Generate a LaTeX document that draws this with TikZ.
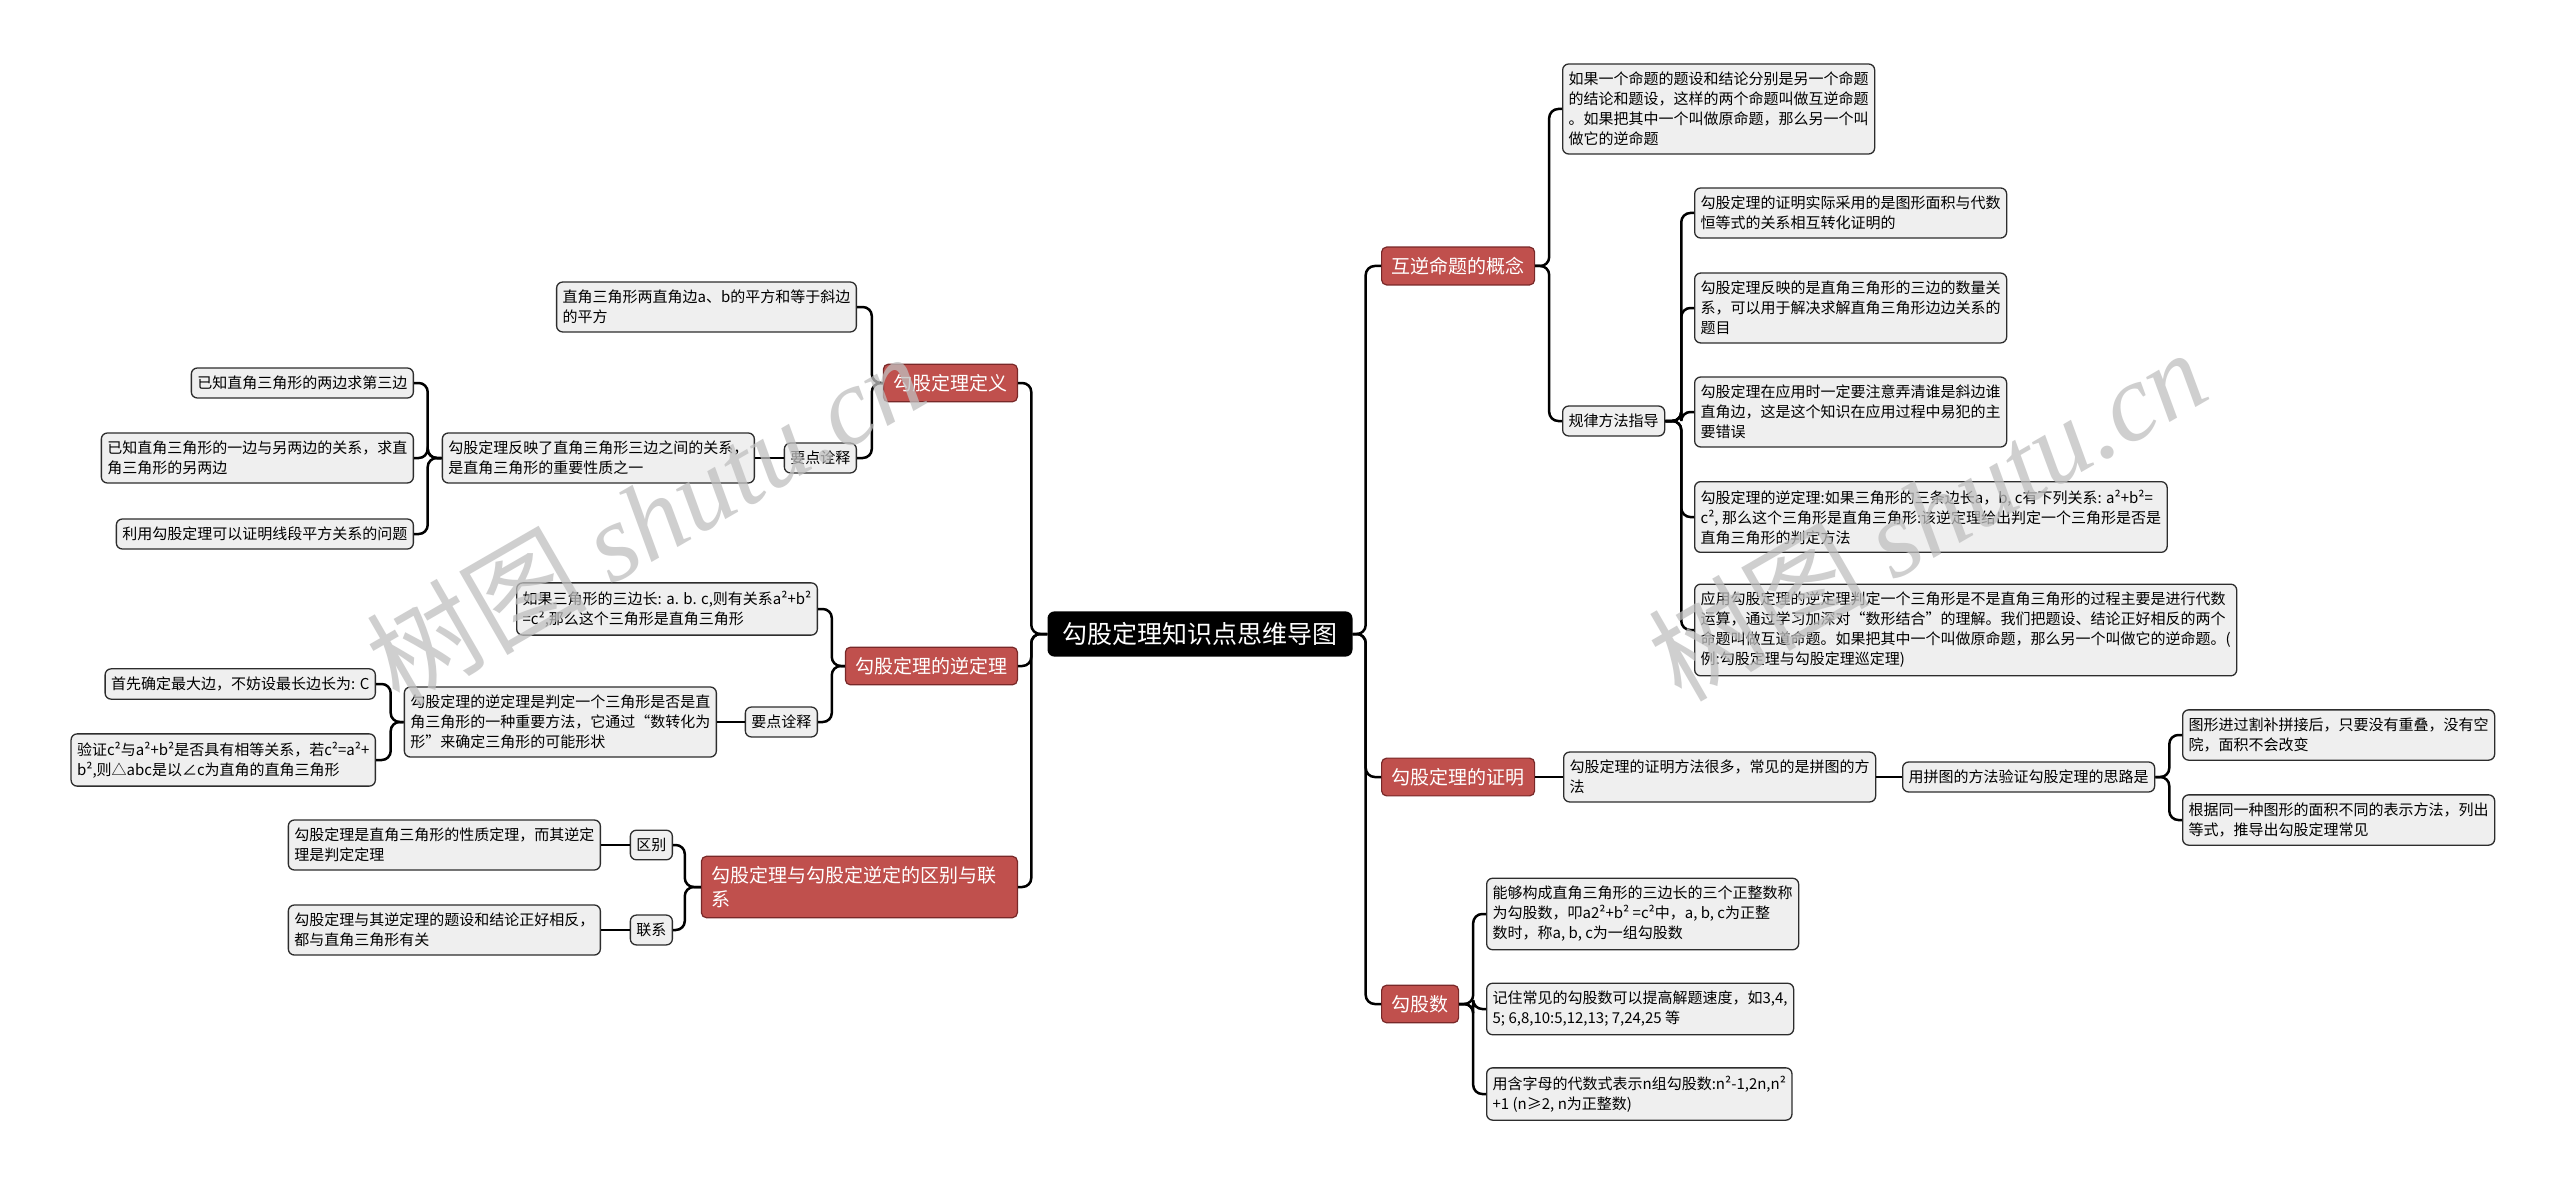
\documentclass[tikz,border=0pt]{standalone}
\usepackage{fontspec}
\setmainfont{Noto Sans CJK SC}
\newfontfamily\wmlatin{Liberation Serif}
\definecolor{topicred}{RGB}{192,80,77}
\definecolor{topicedge}{RGB}{120,40,40}
\definecolor{leafgray}{RGB}{239,239,239}
\definecolor{leafedge}{RGB}{45,45,45}
\begin{document}
\begin{tikzpicture}[x=1pt,y=-1pt,
    root/.style={fill=black, text=white, rounded corners=7pt, inner xsep=15pt, inner ysep=11pt,
      font=\fontsize{25}{30}\selectfont},
    topic/.style={draw=topicedge, line width=1.2pt, fill=topicred, text=white, rounded corners=5pt,
      inner xsep=10pt, inner ysep=10pt, align=left, font=\fontsize{19}{24}\selectfont},
    leaf/.style={draw=leafedge, line width=1.3pt, fill=leafgray, rounded corners=6pt,
      inner xsep=6pt, inner ysep=8pt, align=left, font=\fontsize{15}{20}\selectfont},
    link/.style={line width=2.5pt, rounded corners=9pt},
    wmark/.style={text=black!25, text opacity=0.75, rotate=30, inner sep=0pt,
      font=\fontsize{110}{110}\selectfont}]
  \useasboundingbox (0,0) rectangle (2560,1185);
  \fill[white] (0,0) rectangle (2560,1185);
  % centre
  \node[root] (root) at (1200,634) {勾股定理知识点思维导图};
  % left: definition
  \node[topic, anchor=east] (def) at (1018,383) {勾股定理定义};
  \node[leaf, anchor=east] (def_a) at (857,307) {直角三角形两直角边a、b的平方和等于斜边\\的平方};
  \node[leaf, anchor=east] (def_k) at (857,458) {要点诠释};
  \node[leaf, anchor=east] (def_k_r) at (755,458) {勾股定理反映了直角三角形三边之间的关系，\\是直角三角形的重要性质之一};
  \node[leaf, anchor=east] (def_1) at (414,383) {已知直角三角形的两边求第三边};
  \node[leaf, anchor=east] (def_2) at (414,458) {已知直角三角形的一边与另两边的关系，求直\\角三角形的另两边};
  \node[leaf, anchor=east] (def_3) at (414,534) {利用勾股定理可以证明线段平方关系的问题};
  % left: converse theorem
  \node[topic, anchor=east] (inv) at (1018,666) {勾股定理的逆定理};
  \node[leaf, anchor=east] (inv_a) at (818,609) {如果三角形的三边长: a. b. c,则有关系a²+b²\\=c²,那么这个三角形是直角三角形};
  \node[leaf, anchor=east] (inv_k) at (818,722) {要点诠释};
  \node[leaf, anchor=east] (inv_k_r) at (717,722) {勾股定理的逆定理是判定一个三角形是否是直\\角三角形的一种重要方法，它通过“数转化为\\形”来确定三角形的可能形状};
  \node[leaf, anchor=east] (inv_1) at (376,684) {首先确定最大边，不妨设最长边长为: C};
  \node[leaf, anchor=east] (inv_2) at (376,760) {验证c²与a²+b²是否具有相等关系，若c²=a²+\\b²,则△abc是以∠c为直角的直角三角形};
  % left: difference and relation
  \node[topic, anchor=east, text width=296pt] (rel) at (1018,887) {勾股定理与勾股定逆定的区别与联\\系};
  \node[leaf, anchor=east] (rel_d) at (673,845) {区别};
  \node[leaf, anchor=east] (rel_c) at (673,930) {联系};
  \node[leaf, anchor=east] (rel_d_r) at (601,845) {勾股定理是直角三角形的性质定理，而其逆定\\理是判定定理};
  \node[leaf, anchor=east] (rel_c_r) at (601,930) {勾股定理与其逆定理的题设和结论正好相反，\\都与直角三角形有关};
  % right: converse propositions
  \node[topic, anchor=west] (conv) at (1381,266) {互逆命题的概念};
  \node[leaf, anchor=west] (conv_a) at (1562,109) {如果一个命题的题设和结论分别是另一个命题\\的结论和题设，这样的两个命题叫做互逆命题\\。如果把其中一个叫做原命题，那么另一个叫\\做它的逆命题};
  \node[leaf, anchor=west] (conv_g) at (1562,421) {规律方法指导};
  \node[leaf, anchor=west] (conv_g1) at (1694,213) {勾股定理的证明实际采用的是图形面积与代数\\恒等式的关系相互转化证明的};
  \node[leaf, anchor=west] (conv_g2) at (1694,308) {勾股定理反映的是直角三角形的三边的数量关\\系，可以用于解决求解直角三角形边边关系的\\题目};
  \node[leaf, anchor=west] (conv_g3) at (1694,412) {勾股定理在应用时一定要注意弄清谁是斜边谁\\直角边，这是这个知识在应用过程中易犯的主\\要错误};
  \node[leaf, anchor=west] (conv_g4) at (1694,517) {勾股定理的逆定理:如果三角形的三条边长a，b, c有下列关系: a²+b²=\\c², 那么这个三角形是直角三角形:该逆定理给出判定一个三角形是否是\\直角三角形的判定方法};
  \node[leaf, anchor=west] (conv_g5) at (1694,630) {应用勾股定理的逆定理判定一个三角形是不是直角三角形的过程主要是进行代数\\运算，通过学习加深对“数形结合”的理解。我们把题设、结论正好相反的两个\\命题叫做互道命题。如果把其中一个叫做原命题，那么另一个叫做它的逆命题。(\\例:勾股定理与勾股定理巡定理)};
  % right: proof
  \node[topic, anchor=west] (prf) at (1381,777) {勾股定理的证明};
  \node[leaf, anchor=west] (prf_a) at (1563,777) {勾股定理的证明方法很多，常见的是拼图的方\\法};
  \node[leaf, anchor=west] (prf_b) at (1902,777) {用拼图的方法验证勾股定理的思路是};
  \node[leaf, anchor=west] (prf_b1) at (2182,735) {图形进过割补拼接后，只要没有重叠，没有空\\院，面积不会改变};
  \node[leaf, anchor=west] (prf_b2) at (2182,820) {根据同一种图形的面积不同的表示方法，列出\\等式，推导出勾股定理常见};
  % right: pythagorean triples
  \node[topic, anchor=west] (num) at (1381,1004) {勾股数};
  \node[leaf, anchor=west] (num_1) at (1486,914) {能够构成直角三角形的三边长的三个正整数称\\为勾股数，叩a2²+b² =c²中，a, b, c为正整\\数时，称a, b, c为一组勾股数};
  \node[leaf, anchor=west] (num_2) at (1486,1009) {记住常见的勾股数可以提高解题速度，如3,4,\\5; 6,8,10:5,12,13; 7,24,25 等};
  \node[leaf, anchor=west] (num_3) at (1486,1094) {用含字母的代数式表示n组勾股数:n²-1,2n,n²\\+1 (n≥2, n为正整数)};
  % branches
  \foreach \t in {def,inv,rel} \draw[link] (root.west) -- ++(-16,0) |- (\t.east);
  \foreach \t in {conv,prf,num} \draw[link] (root.east) -- ++(13,0) |- (\t.west);
  \foreach \t in {def_a,def_k} \draw[link] (def.west) -- ++(-11,0) |- (\t.east);
  \draw[link] (def_k.west) -- (def_k_r.east);
  \foreach \t in {def_1,def_2,def_3} \draw[link] (def_k_r.west) -- ++(-14,0) |- (\t.east);
  \foreach \t in {inv_a,inv_k} \draw[link] (inv.west) -- ++(-13,0) |- (\t.east);
  \draw[link] (inv_k.west) -- (inv_k_r.east);
  \foreach \t in {inv_1,inv_2} \draw[link] (inv_k_r.west) -- ++(-13,0) |- (\t.east);
  \foreach \t in {rel_d,rel_c} \draw[link] (rel.west) -- ++(-16,0) |- (\t.east);
  \draw[link] (rel_d.west) -- (rel_d_r.east);
  \draw[link] (rel_c.west) -- (rel_c_r.east);
  \foreach \t in {conv_a,conv_g} \draw[link] (conv.east) -- ++(14,0) |- (\t.west);
  \foreach \t in {conv_g1,conv_g2,conv_g3,conv_g4,conv_g5} \draw[link] (conv_g.east) -- ++(16,0) |- (\t.west);
  \draw[link] (prf.east) -- (prf_a.west);
  \draw[link] (prf_a.east) -- (prf_b.west);
  \foreach \t in {prf_b1,prf_b2} \draw[link] (prf_b.east) -- ++(14,0) |- (\t.west);
  \foreach \t in {num_1,num_2,num_3} \draw[link] (num.east) -- ++(14,0) |- (\t.west);
  % watermarks
  \node[wmark] (wm_l) at (645,518) {树图 {\wmlatin\itshape shutu.cn}};
  \node[wmark] (wm_r) at (1927,514) {树图 {\wmlatin\itshape shutu.cn}};
\end{tikzpicture}
\end{document}
